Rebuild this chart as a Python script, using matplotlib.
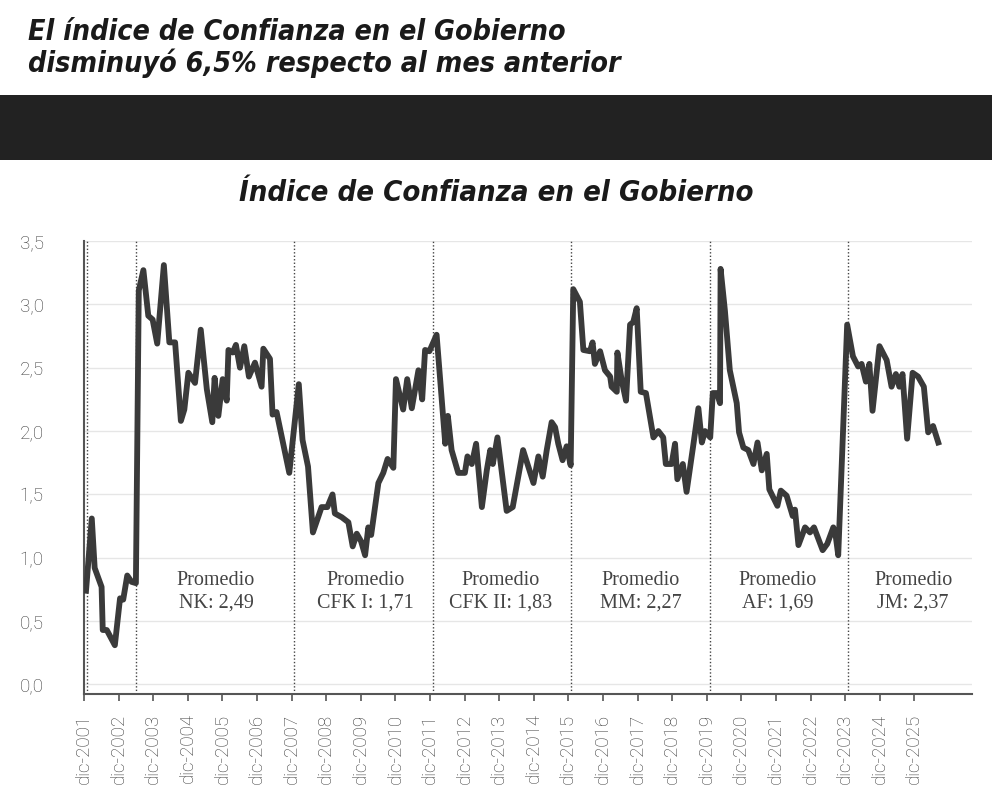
import matplotlib
matplotlib.use('Agg')
import matplotlib.pyplot as plt

# meses desde dic-2001 (vertices) y valor del indice
meses = [0.7, 2.7, 3.7, 6.1, 6.5, 7.9, 10.7, 12.5, 13.6, 15.0, 16.5, 18.0,
         19.0, 20.6, 22.3, 23.8, 25.4, 27.7, 29.6, 31.6, 33.6, 34.8, 36.2, 38.5,
         40.5, 42.6, 44.5, 45.3, 46.6, 48.1, 49.5, 50.1, 51.6, 52.7, 54.1, 55.6,
         57.2, 59.3, 61.6, 62.2, 64.5, 65.4, 66.8, 71.2, 74.5, 75.8, 77.7, 79.4,
         82.4, 84.4, 86.2, 87.0, 89.4, 91.7, 93.2, 94.6, 96.1, 97.5, 98.6, 99.6,
         102.1, 103.8, 105.3, 107.3, 108.2, 110.7, 112.1, 113.7, 116.0, 117.3, 118.3, 119.8,
         122.3, 125.3, 126.2, 127.5, 129.8, 132.1, 133.0, 134.5, 136.0, 138.0, 139.7, 140.9,
         141.8, 143.4, 146.6, 148.7, 152.3, 155.9, 157.6, 159.1, 160.5, 162.2, 163.4, 164.5,
         166.0, 167.4, 168.8, 169.7, 172.0, 173.2, 175.5, 176.4, 177.2, 179.0, 180.7, 182.5,
         183.0, 184.8, 185.0, 186.5, 188.0, 189.4, 190.5, 191.7, 193.1, 194.9, 197.5, 199.2,
         200.9, 201.8, 203.8, 205.0, 205.8, 207.7, 209.0, 211.4, 213.1, 214.3, 215.4, 217.2,
         218.1, 219.5, 220.6, 220.8, 222.3, 224.0, 226.4, 227.2, 228.7, 230.4, 232.2, 233.6,
         235.1, 236.8, 237.7, 240.5, 241.7, 243.7, 245.8, 246.6, 247.8, 250.1, 251.8, 253.2,
         254.7, 256.2, 257.8, 259.9, 260.8, 261.6, 264.7, 266.7, 268.5, 269.7, 271.2, 272.4,
         273.5, 275.9, 278.4, 280.1, 281.6, 282.8, 283.9, 285.5, 287.4, 289.3, 291.3, 292.8,
         294.5, 296.3]
valores = [0.74, 1.31, 0.92, 0.77, 0.43, 0.43, 0.31, 0.68, 0.67, 0.86, 0.81, 0.80,
           3.11, 3.27, 2.91, 2.88, 2.69, 3.31, 2.70, 2.70, 2.08, 2.17, 2.46, 2.38,
           2.80, 2.33, 2.07, 2.42, 2.12, 2.41, 2.24, 2.64, 2.62, 2.68, 2.50, 2.67,
           2.43, 2.54, 2.35, 2.65, 2.57, 2.13, 2.15, 1.67, 2.37, 1.93, 1.72, 1.20,
           1.40, 1.40, 1.50, 1.35, 1.32, 1.28, 1.09, 1.19, 1.13, 1.02, 1.24, 1.18,
           1.59, 1.67, 1.78, 1.71, 2.41, 2.17, 2.41, 2.18, 2.48, 2.25, 2.64, 2.63,
           2.76, 1.90, 2.12, 1.85, 1.67, 1.67, 1.80, 1.74, 1.90, 1.40, 1.69, 1.85,
           1.74, 1.95, 1.37, 1.40, 1.85, 1.59, 1.80, 1.64, 1.85, 2.07, 2.03, 1.90,
           1.77, 1.88, 1.73, 3.12, 3.02, 2.64, 2.63, 2.70, 2.53, 2.63, 2.48, 2.43,
           2.35, 2.31, 2.62, 2.40, 2.24, 2.84, 2.86, 2.97, 2.31, 2.30, 1.95, 2.00,
           1.95, 1.74, 1.74, 1.90, 1.62, 1.74, 1.52, 1.90, 2.18, 1.91, 2.00, 1.95,
           2.30, 2.30, 2.22, 3.28, 2.95, 2.48, 2.22, 1.99, 1.87, 1.85, 1.74, 1.91,
           1.69, 1.82, 1.54, 1.41, 1.53, 1.49, 1.33, 1.38, 1.10, 1.24, 1.20, 1.24,
           1.15, 1.06, 1.11, 1.24, 1.16, 1.02, 2.84, 2.59, 2.51, 2.53, 2.39, 2.53,
           2.16, 2.67, 2.56, 2.35, 2.45, 2.35, 2.45, 1.94, 2.46, 2.43, 2.35, 1.99,
           2.04, 1.91]

# inicio de cada gobierno (primer mes completo)
cambios_gobierno = [1, 18, 73, 121, 169, 217, 265]

# promedios por gobierno
etiquetas_promedio = ['NK: 2,49', 'CFK I: 1,71', 'CFK II: 1,83', 'MM: 2,27', 'AF: 1,69', 'JM: 2,37']
pos_promedio = [45.8, 97.5, 144.5, 193.0, 240.5, 287.6]

anios = list(range(2001, 2026))
ticks_x = [12 * i for i in range(len(anios))]
labels_x = [f'dic-{a}' for a in anios]

ticks_y = [0, 0.5, 1.0, 1.5, 2.0, 2.5, 3.0, 3.5]
labels_y = ['0,0', '0,5', '1,0', '1,5', '2,0', '2,5', '3,0', '3,5']

fig = plt.figure(figsize=(9.92, 7.88), dpi=100)
fig.patch.set_facecolor('white')

# titulo y banda negra
fig.text(0.028, 0.977, 'El índice de Confianza en el Gobierno\ndisminuyó 6,5% respecto al mes anterior',
         ha='left', va='top', fontsize=20.5, fontweight='heavy', fontstyle='italic',
         fontstretch='condensed', family=['DejaVu Sans'], color='#1a1a1a', linespacing=1.1)
fig.patches.append(plt.Rectangle((0, 1 - 160 / 788), 1, 65 / 788, transform=fig.transFigure,
                                 facecolor='#222222', edgecolor='none'))
fig.text(0.5, 1 - 193 / 788, 'Índice de Confianza en el Gobierno', ha='center', va='center',
         fontsize=21, fontweight='heavy', fontstyle='italic', fontstretch='condensed',
         family=['DejaVu Sans'], color='#1a1a1a')

ax = fig.add_axes([84 / 992, 1 - 694 / 788, (972 - 84) / 992, (694 - 241) / 788])

ax.plot(meses, valores, color='#3a3a3a', linewidth=4.2, solid_joinstyle='round', zorder=3)

for m in cambios_gobierno:
    ax.axvline(m, color='#444444', linestyle=(0, (1, 1.5)), linewidth=1.0, zorder=2)

for m, txt in zip(pos_promedio, etiquetas_promedio):
    ax.text(m, 0.73, 'Promedio\n' + txt, ha='center', va='center', fontsize=14.5,
            family=['Liberation Serif', 'DejaVu Serif'], color='#444444', linespacing=1.25)

ax.set_xlim(0, 308)
ax.set_ylim(-0.075, 3.5)
ax.set_yticks(ticks_y)
ax.set_yticklabels(labels_y)
ax.set_xticks(ticks_x)
ax.set_xticklabels(labels_x, rotation=90)

ax.grid(axis='y', color='#e6e6e6', linewidth=1.0, zorder=0)
ax.set_axisbelow(True)
for lado in ['top', 'right']:
    ax.spines[lado].set_visible(False)
for lado in ['left', 'bottom']:
    ax.spines[lado].set_color('#555555')
    ax.spines[lado].set_linewidth(1.5)

ax.tick_params(axis='y', length=0, pad=29, labelsize=13.5, labelcolor='#3a3a3a')
ax.tick_params(axis='x', length=5, width=1.2, color='#555555', pad=9, labelsize=13.5, labelcolor='#3a3a3a')
for lab in ax.get_xticklabels() + ax.get_yticklabels():
    lab.set_family(['Roboto', 'DejaVu Sans'])
    lab.set_fontweight('light')

fig.savefig('out.png', dpi=100)
